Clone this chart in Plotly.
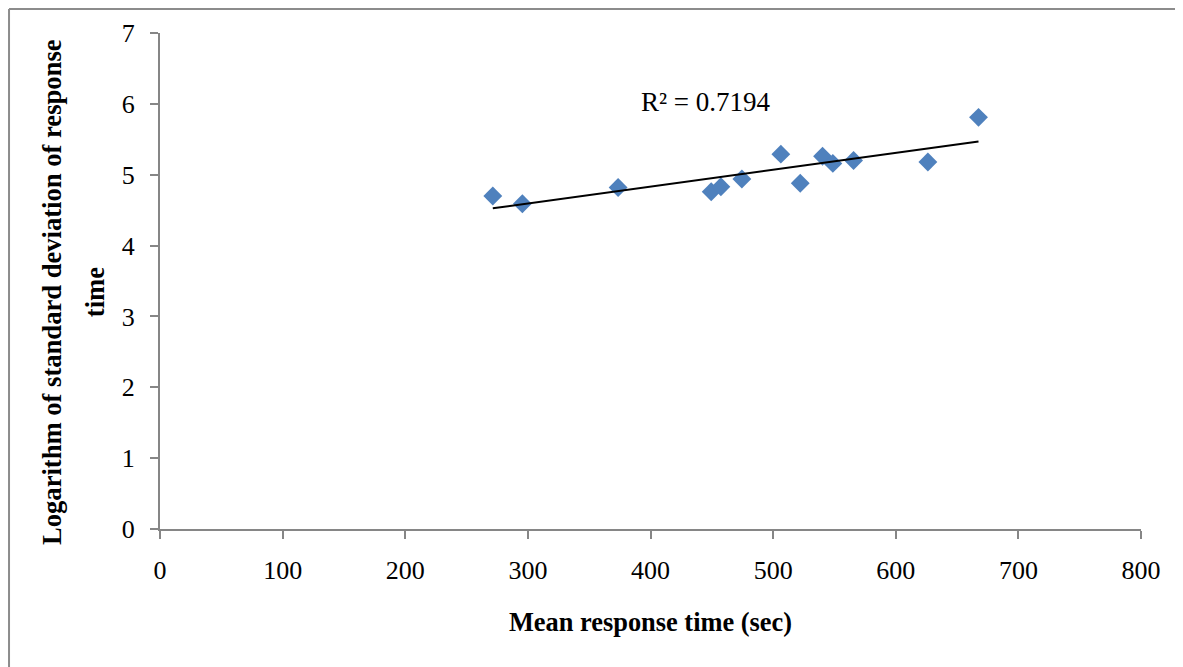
import numpy as np
import plotly.graph_objects as go

# Data
mean_rt = [271.4, 295.5, 373.6, 449.5, 457.4, 474.5, 506.3, 522.1, 540.3, 548.7, 565.6, 626.2, 667.5]
log_sd = [4.70, 4.59, 4.82, 4.76, 4.83, 4.94, 5.29, 4.88, 5.26, 5.16, 5.20, 5.18, 5.81]
x_ticks = [0, 100, 200, 300, 400, 500, 600, 700, 800]
y_ticks = [0, 1, 2, 3, 4, 5, 6, 7]
r2_label = "R² = 0.7194"
x_title = "Mean response time (sec)"
y_title_lines = ["Logarithm of standard deviation of response", "time"]

# Linear trendline fitted to the data
coef = np.polyfit(mean_rt, log_sd, 1)
trend_x = [min(mean_rt), max(mean_rt)]
trend_y = [coef[0] * v + coef[1] for v in trend_x]

FONT = "Liberation Serif, Times New Roman, serif"
AXIS_COLOR = "#868686"

fig = go.Figure()
fig.add_trace(go.Scatter(
    x=mean_rt, y=log_sd, mode="markers",
    marker=dict(symbol="diamond", size=14.5, color="#4F81BD", line=dict(width=0)),
    showlegend=False, hoverinfo="x+y",
))
fig.add_trace(go.Scatter(
    x=trend_x, y=trend_y, mode="lines",
    line=dict(color="black", width=2),
    showlegend=False, hoverinfo="skip",
))

title_font = dict(family=FONT, size=26.6, color="black")

fig.update_layout(
    width=1175, height=659,
    margin=dict(l=152, r=42, t=25, b=138),
    paper_bgcolor="white", plot_bgcolor="white",
    font=dict(family=FONT, size=26, color="black"),
    xaxis=dict(
        range=[0, 800], tickvals=x_ticks, ticktext=[str(v) for v in x_ticks],
        showgrid=False, zeroline=False, showline=True, linecolor=AXIS_COLOR, linewidth=2,
        ticks="outside", ticklen=8, tickcolor=AXIS_COLOR, tickwidth=2,
        tickfont=dict(family=FONT, size=26, color="black"),
        ticklabelstandoff=9,
        title=dict(text="<b>" + x_title + "</b>", font=dict(family=FONT, size=26.4), standoff=28),
    ),
    yaxis=dict(
        range=[0, 7], tickvals=y_ticks, ticktext=[str(v) for v in y_ticks],
        showgrid=False, zeroline=False, showline=True, linecolor=AXIS_COLOR, linewidth=2,
        ticks="outside", ticklen=8, tickcolor=AXIS_COLOR, tickwidth=2,
        tickfont=dict(family=FONT, size=26, color="black"),
        ticklabelstandoff=10,
    ),
    annotations=[
        dict(x=445.4, y=6.02, xref="x", yref="y", text=r2_label, showarrow=False,
             font=dict(family=FONT, size=27, color="black")),
        dict(x=-0.110, y=0.478, xref="paper", yref="paper", text="<b>" + y_title_lines[0] + "</b>",
             textangle=-90, showarrow=False, xanchor="center", yanchor="middle", font=title_font),
        dict(x=-0.066, y=0.478, xref="paper", yref="paper", text="<b>" + y_title_lines[1] + "</b>",
             textangle=-90, showarrow=False, xanchor="center", yanchor="middle", font=title_font),
    ],
    shapes=[
        dict(type="line", xref="paper", yref="paper", x0=-0.1539, x1=1.0428, y0=1.0484, y1=1.0484,
             line=dict(color="#8c8c8c", width=2)),
        dict(type="line", xref="paper", yref="paper", x0=-0.1539, x1=-0.1539, y0=1.0484, y1=-0.3,
             line=dict(color="#8c8c8c", width=2)),
    ],
)

fig.write_html("out.html")
